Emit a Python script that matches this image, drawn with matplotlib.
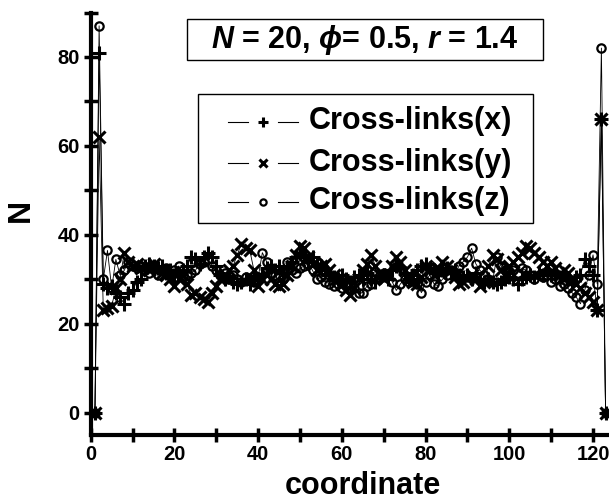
import matplotlib
matplotlib.use("Agg")
import matplotlib.pyplot as plt
from matplotlib.lines import Line2D
from matplotlib.patches import Rectangle
from matplotlib.ticker import MultipleLocator

plt.rcParams['font.family'] = ['Liberation Sans', 'DejaVu Sans']
plt.rcParams['font.weight'] = 'bold'
plt.rcParams['mathtext.fontset'] = 'custom'
plt.rcParams['mathtext.it'] = 'Liberation Sans:italic:bold'
plt.rcParams['mathtext.rm'] = 'Liberation Sans:bold'
plt.rcParams['mathtext.bf'] = 'Liberation Sans:bold'

coordinate = list(range(1, 124))

cross_x = [0, 81, 29, 28, 28.5, 27, 26, 24.5, 27, 27.5,
           29.5, 30, 33, 33.5, 33, 32.5, 33, 31.5, 32, 31,
           31.5, 32, 33, 35, 34.5, 33.5, 35, 36, 35, 33,
           31, 30, 30.5, 29.5, 29, 29.5, 30, 29, 30.5, 30,
           31, 32.5, 33, 32, 33, 31.5, 32.5, 34, 35, 36,
           35.5, 34, 35, 33.5, 33, 32, 31, 30.5, 30, 31,
           30, 29.5, 30.5, 31, 30, 31.5, 30, 29.5, 30.5, 31,
           30, 32, 33, 32.5, 31.5, 30, 31, 32, 33, 33.5,
           32.5, 32, 31.5, 32, 32.5, 31.5, 32, 31, 30.5, 31,
           30, 31.5, 30, 29.5, 30, 29.5, 29, 29.5, 30, 30.5,
           30, 29, 30, 30.5, 31, 30.5, 31.5, 31, 32, 31,
           31.5, 30.5, 31, 30, 29.5, 30.5, 31, 34.5, 33, 31,
           23, 66, 0]

cross_y = [0, 62, 23, 23.5, 24, 28, 30, 36, 34, 33,
           33.5, 32.5, 33, 32, 33.5, 32, 31.5, 31, 30, 28.5,
           30, 31, 29, 26.5, 27, 26, 25.5, 25, 27, 28.5,
           30, 31, 32, 33, 35.5, 38, 37, 36.5, 32, 28.5,
           30, 31, 30, 29, 28.5, 29, 31, 33, 35.5, 37.5,
           37, 35, 33.5, 32, 33, 33.5, 32, 31, 30, 29,
           27.5, 26.5, 28, 30, 32, 33.5, 35.5, 33, 31, 30,
           31, 33, 35, 34, 32, 30, 29.5, 29, 30.5, 33,
           32, 31, 32.5, 34, 33, 32, 30.5, 29, 29.5, 30,
           31, 30, 28.5, 29.5, 33, 35.5, 34.5, 32, 31, 33,
           34, 35, 36, 37.5, 37, 36, 35, 34, 33, 34,
           32.5, 31, 32, 31.5, 30, 29, 28, 27, 26, 25,
           23, 66, 0]

cross_z = [0, 87, 30, 36.5, 28, 34.5, 31, 32, 34, 33,
           32.5, 33, 32, 31.5, 32.5, 31, 32, 32.5, 31.5, 32,
           33, 30.5, 31, 31.5, 32, 33.5, 34, 34.5, 33, 32,
           31, 31.5, 30, 31, 30, 29.5, 30.5, 30, 29.5, 30.5,
           36, 34, 32.5, 31, 29.5, 30, 34, 32, 31.5, 32.5,
           33, 33.5, 32, 30, 30.5, 29.5, 29, 28.5, 29, 28,
           28.5, 27.5, 28, 27, 27, 28.5, 29, 30, 31, 31.5,
           31, 29.5, 27.5, 29, 30, 29.5, 30.5, 29, 27, 29.5,
           31, 29, 28.5, 30, 31, 32, 31.5, 33, 34, 35,
           37, 33.5, 32, 31, 30, 29.5, 35, 33, 32, 31,
           32, 31.5, 32.5, 32, 31, 30, 31, 30.5, 31, 29.5,
           30, 28.5, 29, 28, 27, 26, 24.5, 27.5, 31, 35.5,
           29, 82, 0]

labels = ['Cross-links(x)', 'Cross-links(y)', 'Cross-links(z)']
x_ticks = [0, 20, 40, 60, 80, 100, 120]
y_ticks = [0, 20, 40, 60, 80]

fig = plt.figure(figsize=(6.09, 5.0), dpi=100)
ax = fig.add_axes([0.149, 0.13, 0.866, 0.845])

styles = [dict(marker='+', markersize=10, mew=2.2, mfc='none'),
          dict(marker='x', markersize=8.5, mew=2.2, mfc='none'),
          dict(marker='o', markersize=6, mew=1.6, mfc='none')]
for vals, st in zip([cross_x, cross_y, cross_z], styles):
    ax.plot(coordinate, vals, color='black', lw=0.6, mec='black', **st)

ax.set_xlim(0, 126)
ax.set_ylim(-5, 90)
ax.set_xticks(x_ticks)
ax.set_yticks(y_ticks)
ax.xaxis.set_minor_locator(MultipleLocator(10))
ax.yaxis.set_minor_locator(MultipleLocator(10))
for s in ['top', 'right']:
    ax.spines[s].set_visible(False)
for s in ['left', 'bottom']:
    ax.spines[s].set_linewidth(3)
ax.tick_params(which='both', direction='inout', length=10, width=2.5)
ax.tick_params(axis='x', which='major', pad=2, labelsize=14.5)
ax.tick_params(axis='y', which='major', pad=3, labelsize=14.5)
for lab in ax.get_xticklabels() + ax.get_yticklabels():
    lab.set_fontweight('bold')

fig.text(0.034, 0.58, 'N', rotation=90, ha='center', va='center',
         fontsize=23, fontweight='bold')
fig.text(0.596, 0.027, 'coordinate', ha='center', va='center',
         fontsize=22, fontweight='bold')

# title box
fig.patches.append(Rectangle((0.307, 0.881), 0.584, 0.082, transform=fig.transFigure,
                             fill=False, edgecolor='black', lw=1.0))
fig.text(0.599, 0.920, r'$N$ = 20, $\phi$= 0.5, $r$ = 1.4', ha='center', va='center',
         fontsize=22, fontweight='bold')

# legend
fig.patches.append(Rectangle((0.325, 0.555), 0.551, 0.258, transform=fig.transFigure,
                             fill=False, edgecolor='black', lw=1.0))
rows = [0.757, 0.675, 0.597]
for yy, st, lab in zip(rows, styles, labels):
    fig.add_artist(Line2D([0.375, 0.408], [yy, yy], color='black', lw=0.8,
                          transform=fig.transFigure))
    fig.add_artist(Line2D([0.456, 0.49], [yy, yy], color='black', lw=0.8,
                          transform=fig.transFigure))
    fig.add_artist(Line2D([0.432], [yy], color='black', lw=0, mec='black',
                          transform=fig.transFigure,
                          **{k: (v * 0.75 if k == 'markersize' else v) for k, v in st.items()}))
    fig.text(0.507, yy, lab, ha='left', va='center', fontsize=22, fontweight='bold')

fig.savefig('out.png', dpi=100)
